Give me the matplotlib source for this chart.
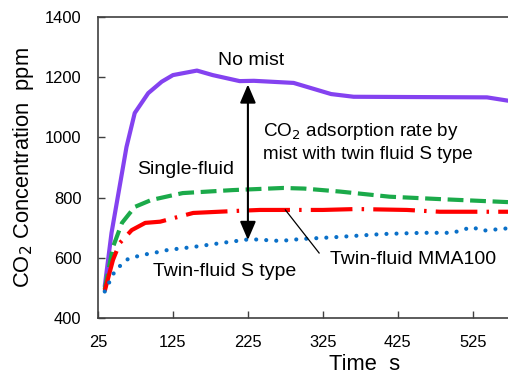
import numpy as np
import matplotlib.pyplot as plt
from matplotlib import font_manager

# pick narrow font if there is one
names = {f.name for f in font_manager.fontManager.ttflist}
if "Liberation Sans Narrow" in names:
    fam = "Liberation Sans Narrow"
    k = 1.0
else:
    fam = "Liberation Sans"
    k = 0.85
plt.rcParams["font.family"] = [fam, "DejaVu Sans"]

# DATA (time s, CO2 ppm)
t_nomist = [34, 43, 57, 63, 74, 92, 110, 125, 157, 178, 214, 233, 286, 336, 366, 450, 544, 572]
v_nomist = [505, 682, 882, 968, 1081, 1147, 1185, 1207, 1222, 1207, 1187, 1188, 1181, 1144, 1135, 1134, 1133, 1122]

t_single = [34, 45, 57, 74, 96, 125, 138, 205, 272, 300, 348, 414, 481, 572]
v_single = [495, 636, 716, 769, 792, 808, 815, 825, 832, 830, 820, 803, 795, 785]

t_mma = [34, 45, 54, 70, 88, 108, 126, 152, 212, 241, 325, 370, 437, 481, 572]
v_mma = [490, 593, 649, 692, 716, 720, 732, 749, 756, 759, 759, 762, 759, 753, 753]

t_stype = [34, 48, 65, 83, 101, 118, 152, 192, 228, 268, 294, 344, 405, 458, 498, 524, 538, 572]
v_stype = [488, 559, 596, 609, 617, 626, 636, 650, 662, 656, 662, 669, 679, 683, 683, 702, 690, 698]

xticks = [25, 125, 225, 325, 425, 525]
yticks = [400, 600, 800, 1000, 1200, 1400]

fig = plt.figure(figsize=(5.08, 3.81), dpi=100)
ax = fig.add_axes([98 / 508, 1 - 318 / 381, 1 - 98 / 508, (318 - 17) / 381])

lw = 3.0
ax.plot(t_nomist, v_nomist, color="#8442F0", lw=lw, solid_capstyle="round")
ax.plot(t_single, v_single, color="#1BAA4A", lw=lw, linestyle=(0, (3.8, 1.6)))
ax.plot(t_mma, v_mma, color="#FF0000", lw=lw, linestyle=(0, (10, 2.2, 0.6, 2.2)))
ax.plot(t_stype, v_stype, color="#0A70C8", lw=lw, linestyle=(0, (0.01, 2.4)),
        dash_capstyle="round")

ax.set_xlim(25, 572)
ax.set_ylim(400, 1400)
ax.set_xticks(xticks)
ax.set_yticks(yticks)
ax.tick_params(direction="in", length=5, width=1, colors="#404040",
               labelcolor="black", labelsize=14 * k, pad=12)
for s in ["left", "bottom", "top"]:
    ax.spines[s].set_color("#404040")
    ax.spines[s].set_linewidth(1.2)
ax.spines["right"].set_visible(False)

ax.set_ylabel("CO$_2$ Concentration  ppm", fontsize=18.5 * k, labelpad=6)
ax.set_xlabel("Time  s", fontsize=18.5 * k)
ax.xaxis.set_label_coords(0.649, -0.12)

fs = 16.5 * k
ax.text(229, 1257, "No mist", fontsize=fs, ha="center", va="center")
ax.text(245, 985, "CO$_2$ adsorption rate by\nmist with twin fluid S type",
        fontsize=fs * 0.97, ha="left", va="center", linespacing=1.3)
ax.text(142, 892, "Single-fluid", fontsize=fs, ha="center", va="center")
ax.text(194, 553, "Twin-fluid S type", fontsize=fs, ha="center", va="center")
ax.text(445, 593, "Twin-fluid MMA100", fontsize=fs, ha="center", va="center")

ax.annotate("", xy=(225, 1176), xytext=(225, 659),
            arrowprops=dict(arrowstyle="<|-|>,head_length=0.7,head_width=0.3",
                            color="black", lw=1.5,
                            mutation_scale=16, shrinkA=0, shrinkB=0))
ax.plot([275, 320], [759, 616], color="black", lw=0.9)

fig.savefig("out.png", dpi=100)
